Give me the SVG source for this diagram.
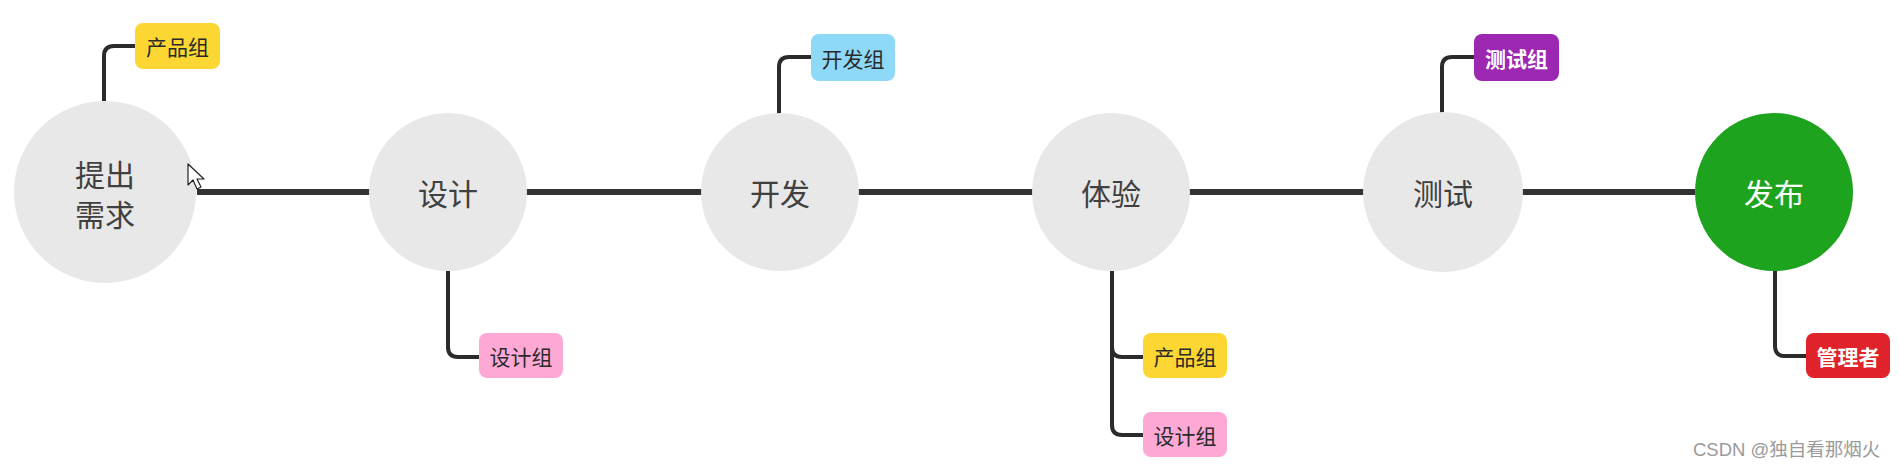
<svg xmlns="http://www.w3.org/2000/svg" width="1899" height="472" viewBox="0 0 1899 472">
<style>
.circ{fill:#e8e8e8}
.ct{font-family:"Noto Sans CJK SC","Noto Sans",sans-serif;font-size:30px;fill:#404040;text-anchor:middle;dominant-baseline:central}
.tt{font-family:"Noto Sans CJK SC","Noto Sans",sans-serif;font-size:21px;fill:#2a2a2a;text-anchor:middle;dominant-baseline:central}
.tw{fill:#ffffff;font-weight:bold}
.main{stroke:#333333;stroke-width:6;fill:none}
.con{stroke:#2b2b2b;stroke-width:4;fill:none;stroke-linecap:butt}
</style>
<rect width="1899" height="472" fill="#ffffff"/>
<g id="connectors">
<path class="main" d="M197 192 H1695"/>
<path class="con" d="M104 101 V56 Q104 46 114 46 H136"/>
<path class="con" d="M448 270 V347 Q448 357 458 357 H480"/>
<path class="con" d="M779 114 V67 Q779 57 789 57 H812"/>
<path class="con" d="M1112 271 V425 Q1112 435 1122 435 H1144"/>
<path class="con" d="M1112 347 Q1112 357 1122 357 H1144"/>
<path class="con" d="M1442 114 V67 Q1442 57 1452 57 H1475"/>
<path class="con" d="M1775 271 V346 Q1775 356 1785 356 H1807"/>
</g>
<g id="n1"><circle class="circ" cx="105" cy="192" r="91"/><text class="ct" x="105" y="173">提出</text><text class="ct" x="105" y="213">需求</text></g>
<g id="n2"><circle class="circ" cx="448" cy="192" r="79"/><text class="ct" x="448" y="192">设计</text></g>
<g id="n3"><circle class="circ" cx="780" cy="192" r="79"/><text class="ct" x="780" y="192">开发</text></g>
<g id="n4"><circle class="circ" cx="1111" cy="192" r="79"/><text class="ct" x="1111" y="192">体验</text></g>
<g id="n5"><circle class="circ" cx="1443" cy="192" r="80"/><text class="ct" x="1443" y="192">测试</text></g>
<g id="n6"><circle cx="1774" cy="192" r="79" fill="#1ea31e"/><text class="ct" x="1774" y="192" style="fill:#ffffff">发布</text></g>
<g id="t1"><rect x="135" y="23" width="85" height="46" rx="8" fill="#fcd633"/><text class="tt" x="177.5" y="46">产品组</text></g>
<g id="t2"><rect x="479" y="333" width="84" height="45" rx="8" fill="#fea9d5"/><text class="tt" x="521" y="355.5">设计组</text></g>
<g id="t3"><rect x="811" y="34" width="84" height="47" rx="8" fill="#8fd9f8"/><text class="tt" x="853" y="57.5">开发组</text></g>
<g id="t4"><rect x="1143" y="333" width="84" height="45" rx="8" fill="#fcd633"/><text class="tt" x="1185" y="355.5">产品组</text></g>
<g id="t5"><rect x="1143" y="412" width="84" height="45" rx="8" fill="#fea9d5"/><text class="tt" x="1185" y="434.5">设计组</text></g>
<g id="t6"><rect x="1474" y="34" width="85" height="47" rx="8" fill="#9c27b0"/><text class="tt tw" x="1516.5" y="57.5">测试组</text></g>
<g id="t7"><rect x="1806" y="333" width="84" height="45" rx="8" fill="#e0222a"/><text class="tt tw" x="1848" y="355.5">管理者</text></g>
<path d="M188 164 V185 L193 180 L197 189 L201 187 L197 179 L204 179 Z" fill="#ffffff" stroke="#222222" stroke-width="1.2" stroke-linejoin="round"/>
<text x="1693" y="456" font-family="Liberation Sans,'Noto Sans CJK SC',sans-serif" font-size="18.5" fill="#9a9a9a">CSDN @独自看那烟火</text>
</svg>
